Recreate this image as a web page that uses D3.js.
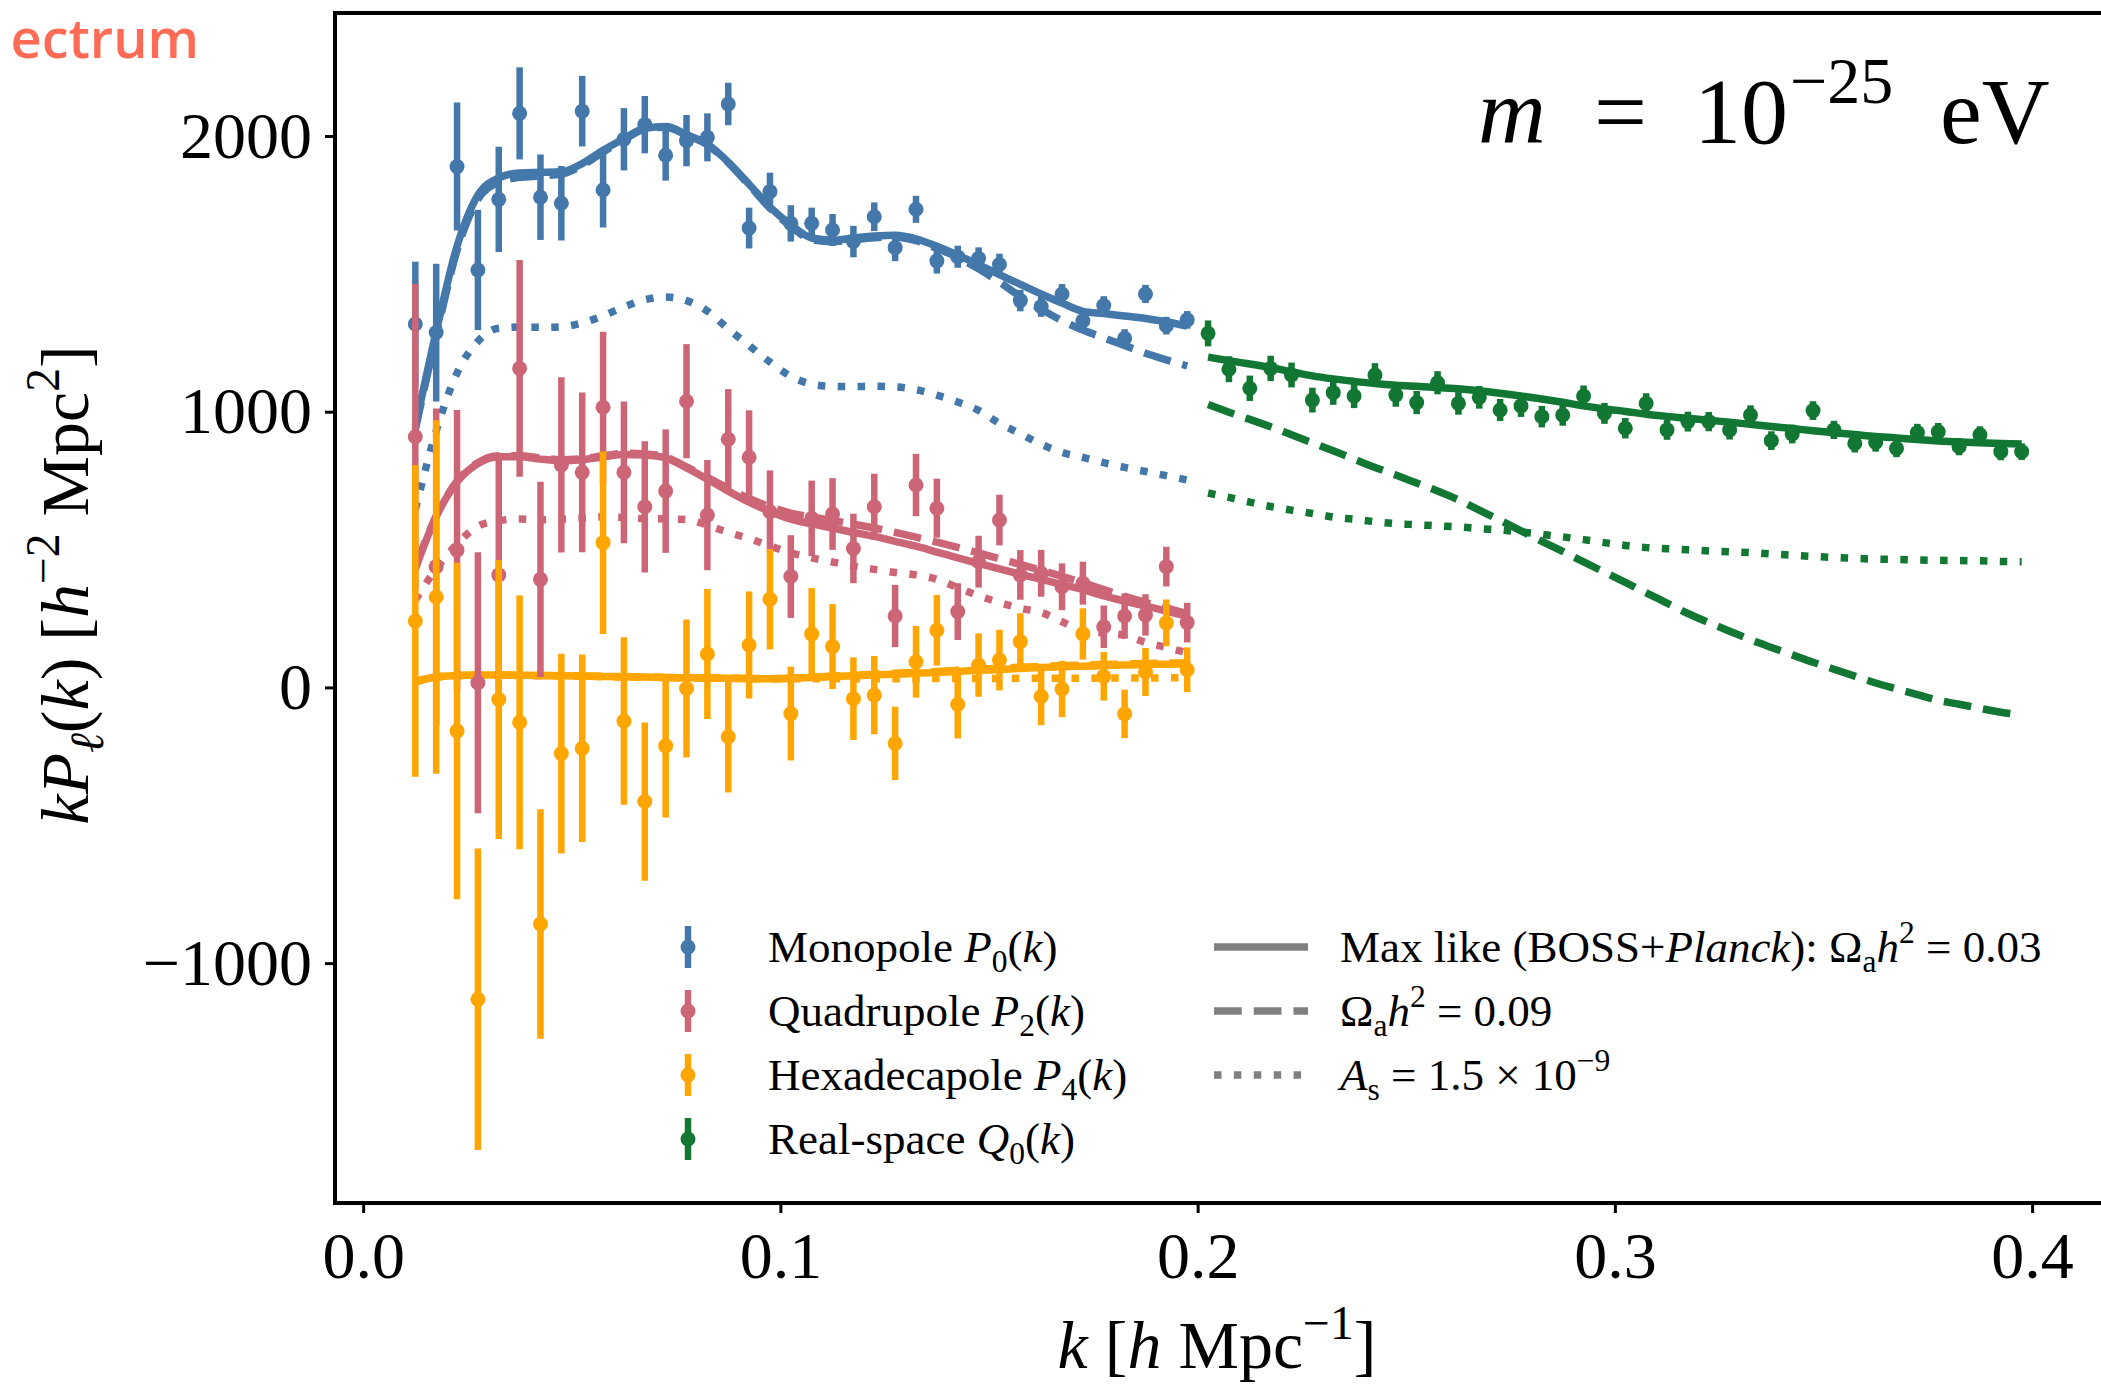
<!DOCTYPE html>
<html>
<head>
<meta charset="utf-8">
<script src="https://cdn.jsdelivr.net/npm/d3@7"></script>
<style>
  body { margin: 0; background: #fff; overflow: hidden; }
  svg { display: block; }
  text { font-family: "Liberation Serif", "DejaVu Serif", serif; }
</style>
</head>
<body>
<div id="container"></div>
<script>
// wavenumbers of the BOSS multipoles and of the real-space Q0 points
var kMulti = [0.0125, 0.0175, 0.0225, 0.0275, 0.0325, 0.0375, 0.0425, 0.0475, 0.0525, 0.0575,
  0.0625, 0.0675, 0.0725, 0.0775, 0.0825, 0.0875, 0.0925, 0.0975, 0.1025, 0.1075,
  0.1125, 0.1175, 0.1225, 0.1275, 0.1325, 0.1375, 0.1425, 0.1475, 0.1525, 0.1575,
  0.1625, 0.1675, 0.1725, 0.1775, 0.1825, 0.1875, 0.1925, 0.1975];
var kReal = [0.2025, 0.2075, 0.2125, 0.2175, 0.2225, 0.2275, 0.2325, 0.2375, 0.2425, 0.2475,
  0.2525, 0.2575, 0.2625, 0.2675, 0.2725, 0.2775, 0.2825, 0.2875, 0.2925, 0.2975,
  0.3025, 0.3075, 0.3125, 0.3175, 0.3225, 0.3275, 0.3325, 0.3375, 0.3425, 0.3475,
  0.3525, 0.3575, 0.3625, 0.3675, 0.3725, 0.3775, 0.3825, 0.3875, 0.3925, 0.3975];

// measured k*P_l(k) and 1-sigma errors
var p0 = [1318, 1287, 1889, 1514, 1770, 2082, 1778, 1756, 2090, 1804, 1988, 2041, 1930, 1983, 1995, 2116, 1666, 1798, 1683, 1683,
  1659, 1617, 1707, 1595, 1734, 1547, 1562, 1556, 1534, 1403, 1381, 1427, 1330, 1385, 1266, 1427, 1312, 1333];
var p0Err = [226, 250, 232, 218, 191, 167, 155, 135, 128, 136, 113, 104, 92, 93, 87, 77, 74, 69, 66, 57,
  58, 57, 52, 49, 49, 46, 40, 40, 39, 39, 37, 36, 34, 34, 33, 33, 32, 32];
var p2 = [909, 438, 498, 17, 408, 1157, 392, 807, 780, 1016, 780, 655, 712, 1038, 625, 900, 835, 637, 402, 613,
  629, 504, 655, 259, 734, 650, 275, 456, 607, 408, 414, 365, 378, 220, 259, 263, 438, 235];
var p2Err = [555, 574, 508, 473, 429, 393, 354, 318, 290, 274, 257, 238, 224, 207, 200, 182, 170, 150, 150, 137,
  130, 126, 120, 113, 113, 107, 103, 94, 92, 90, 85, 85, 78, 77, 82, 75, 72, 72];
var p4 = [241, 328, -158, -1131, -44, -127, -858, -240, -221, 525, -122, -414, -212, -4, 121, -179, 154, 320, -95, 194,
  148, -41, -28, -203, 93, 207, -62, 81, 99, 166, -33, -6, 194, 40, -96, 56, 234, 64];
var p4Err = [565, 641, 610, 547, 506, 460, 416, 362, 340, 331, 304, 287, 260, 250, 236, 202, 194, 182, 170, 166,
  154, 150, 142, 133, 130, 128, 123, 115, 110, 103, 104, 102, 93, 88, 88, 87, 85, 81];
var q0 = [1284, 1154, 1085, 1157, 1133, 1042, 1069, 1057, 1133, 1061, 1033, 1105, 1030, 1052, 1006, 1021, 982, 988, 1057, 994,
  940, 1030, 934, 964, 964, 934, 988, 895, 919, 1004, 934, 885, 888, 867, 924, 927, 873, 916, 855, 855];
var q0Err = [47, 47, 46, 46, 45, 45, 44, 44, 43, 43, 42, 42, 41, 41, 40, 40, 39, 39, 38, 38,
  37, 37, 36, 36, 35, 35, 35, 34, 34, 34, 33, 33, 33, 32, 32, 32, 31, 31, 31, 30];

// model curves: max like (solid), Omega_a h^2 = 0.09 (dashed), A_s = 1.5e-9 (dotted)
var p0Max = [946, 1290, 1600, 1785, 1848, 1866, 1868, 1870, 1900, 1948, 1990, 2028, 2034, 2005, 1970, 1905, 1825, 1742, 1678, 1630,
  1622, 1630, 1637, 1640, 1627, 1600, 1568, 1533, 1497, 1462, 1427, 1394, 1364, 1356, 1347, 1338, 1326, 1310];
var p0Dash = [936, 1275, 1585, 1770, 1832, 1850, 1855, 1862, 1893, 1942, 1986, 2025, 2032, 2003, 1968, 1903, 1822, 1738, 1672, 1624,
  1616, 1624, 1631, 1634, 1620, 1592, 1560, 1518, 1470, 1418, 1372, 1330, 1296, 1268, 1240, 1212, 1188, 1166];
var p0Dot = [645, 930, 1140, 1255, 1303, 1307, 1306, 1308, 1322, 1348, 1380, 1406, 1416, 1403, 1365, 1300, 1240, 1180, 1128, 1100,
  1092, 1091, 1092, 1090, 1080, 1060, 1035, 1005, 958, 920, 882, 852, 834, 815, 798, 783, 768, 752];
var p2Max = [430, 619, 745, 812, 837, 837, 828, 822, 826, 836, 845, 843, 832, 796, 755, 712, 672, 638, 610, 593,
  578, 562, 548, 530, 512, 491, 470, 450, 430, 410, 392, 373, 355, 332, 313, 295, 277, 258];
var p2Dash = [435, 622, 748, 815, 840, 840, 832, 826, 830, 840, 849, 847, 836, 800, 762, 722, 685, 655, 632, 618,
  605, 592, 578, 562, 545, 527, 508, 488, 467, 446, 425, 403, 380, 355, 330, 308, 288, 268];
var p2Dot = [317, 430, 520, 585, 605, 611, 608, 610, 614, 618, 616, 612, 611, 609, 588, 562, 540, 513, 488, 470,
  455, 440, 428, 417, 408, 392, 362, 332, 308, 287, 272, 238, 205, 197, 189, 163, 145, 126];
var p4Max = [22, 38, 43, 45, 45, 44, 43, 42, 41, 40, 39, 38, 36, 35, 34, 33, 32, 31, 33, 36,
  39, 42, 45, 48, 51, 54, 58, 62, 65, 69, 72, 75, 77, 79, 81, 83, 84, 85];
var p4Dash = [22, 38, 43, 45, 45, 44, 43, 42, 41, 40, 39, 38, 36, 35, 34, 33, 32, 32, 34, 37,
  41, 44, 48, 51, 55, 58, 62, 66, 70, 73, 76, 79, 81, 83, 85, 87, 88, 89];
var p4Dot = [20, 36, 42, 44, 44, 43, 42, 41, 40, 39, 38, 37, 36, 35, 34, 33, 32, 31, 31, 31,
  31, 31, 31, 31, 31, 32, 32, 32, 32, 33, 33, 33, 33, 34, 34, 34, 35, 35];
var q0Max = [1198, 1185, 1173, 1160, 1145, 1130, 1119, 1110, 1102, 1096, 1092, 1088, 1083, 1076, 1067, 1057, 1046, 1034, 1021, 1010,
  1001, 991, 983, 976, 969, 962, 954, 946, 939, 931, 924, 917, 910, 905, 899, 894, 890, 887, 885, 883];
var q0Dash = [1026, 998, 972, 945, 916, 887, 858, 828, 798, 770, 741, 712, 680, 643, 606, 568, 530, 493, 455, 418,
  381, 343, 306, 268, 235, 204, 173, 145, 118, 91, 66, 41, 16, -5, -26, -47, -61, -76, -90, -100];
var q0Dot = [705, 689, 672, 656, 643, 631, 618, 610, 601, 594, 590, 586, 582, 576, 571, 564, 555, 546, 536, 525,
  515, 507, 503, 499, 495, 492, 489, 484, 479, 475, 471, 468, 465, 464, 462, 461, 460, 459, 457, 456];

var xTicks = [0.0, 0.1, 0.2, 0.3, 0.4];
var yTicks = [-1000, 0, 1000, 2000];

var colors = { mono: "#4477aa", quad: "#cc6677", hexa: "#ffa500", real: "#117733", legend: "#808080" };

var W = 2101, H = 1384;
var box = { left: 335, right: 2102, top: 13, bottom: 1203 };
var lw = 7.5;
var dashes = { solid: null, dashed: "27.75 12", dotted: "7.5 12.4" };

var svg = d3.select("#container").append("svg").attr("width", W).attr("height", H);
svg.append("rect").attr("width", W).attr("height", H).attr("fill", "#fff");

var x = d3.scaleLinear().domain([-0.00675, 0.41675]).range([box.left, box.right]);
var y = d3.scaleLinear().domain([-1870, 2446]).range([box.bottom, box.top]);

// rich text helper: parts with italic / sub / sup flags
function richText(t, parts, size) {
  var cur = 0;
  parts.forEach(function (p) {
    var off = p.sub ? size * 0.22 : p.sup ? -size * 0.42 : 0;
    var ts = t.append("tspan").attr("dy", off - cur).text(p.t);
    cur = off;
    if (p.sub || p.sup) ts.style("font-size", size * 0.7 + "px");
    if (p.it) ts.style("font-style", "italic");
  });
}

// model lines
var line = d3.line()
  .x(function (d) { return x(d[0]); })
  .y(function (d) { return y(d[1]); })
  .curve(d3.curveMonotoneX);

var models = [
  { k: kMulti, v: p0Dot, c: colors.mono, s: "dotted" },
  { k: kMulti, v: p0Dash, c: colors.mono, s: "dashed" },
  { k: kMulti, v: p0Max, c: colors.mono, s: "solid" },
  { k: kMulti, v: p2Dot, c: colors.quad, s: "dotted" },
  { k: kMulti, v: p2Dash, c: colors.quad, s: "dashed" },
  { k: kMulti, v: p2Max, c: colors.quad, s: "solid" },
  { k: kMulti, v: p4Dot, c: colors.hexa, s: "dotted" },
  { k: kMulti, v: p4Dash, c: colors.hexa, s: "dashed" },
  { k: kMulti, v: p4Max, c: colors.hexa, s: "solid" },
  { k: kReal, v: q0Dot, c: colors.real, s: "dotted" },
  { k: kReal, v: q0Dash, c: colors.real, s: "dashed" },
  { k: kReal, v: q0Max, c: colors.real, s: "solid" }
];

var lines = svg.append("g").attr("class", "models");
lines.selectAll("path")
  .data(models)
  .enter()
  .append("path")
  .attr("d", function (m) {
    return line(m.k.map(function (k, i) { return [k, m.v[i]]; }));
  })
  .attr("fill", "none")
  .attr("stroke", function (m) { return m.c; })
  .attr("stroke-width", lw)
  .attr("stroke-dasharray", function (m) { return dashes[m.s]; })
  .attr("stroke-linecap", "butt")
  .attr("stroke-linejoin", "round");

// data with error bars
var series = [
  { k: kMulti, v: p0, e: p0Err, c: colors.mono },
  { k: kMulti, v: p2, e: p2Err, c: colors.quad },
  { k: kMulti, v: p4, e: p4Err, c: colors.hexa },
  { k: kReal, v: q0, e: q0Err, c: colors.real }
];

series.forEach(function (s) {
  var pts = s.k.map(function (k, i) { return { k: k, v: s.v[i], e: s.e[i] }; });
  var g = svg.append("g").attr("class", "errorbars");
  g.selectAll("line")
    .data(pts)
    .enter()
    .append("line")
    .attr("x1", function (d) { return x(d.k); })
    .attr("x2", function (d) { return x(d.k); })
    .attr("y1", function (d) { return y(d.v - d.e); })
    .attr("y2", function (d) { return y(d.v + d.e); })
    .attr("stroke", s.c)
    .attr("stroke-width", 6.5);
  g.selectAll("circle")
    .data(pts)
    .enter()
    .append("circle")
    .attr("cx", function (d) { return x(d.k); })
    .attr("cy", function (d) { return y(d.v); })
    .attr("r", 7.5)
    .attr("fill", s.c);
});

// axes
var fs = 66;
var yAxis = svg.append("g")
  .attr("transform", "translate(" + box.left + ",0)")
  .call(d3.axisLeft(y).tickValues(yTicks).tickFormat(d3.format("d")).tickSize(10).tickSizeOuter(0).tickPadding(13));
var xAxis = svg.append("g")
  .attr("transform", "translate(0," + box.bottom + ")")
  .call(d3.axisBottom(x).tickValues(xTicks).tickFormat(d3.format(".1f")).tickSize(10).tickSizeOuter(0).tickPadding(18));
[yAxis, xAxis].forEach(function (a) {
  a.select(".domain").remove();
  a.selectAll(".tick line").attr("stroke", "#000").attr("stroke-width", 3);
  a.selectAll(".tick text")
    .style("font-family", "'Liberation Serif', serif")
    .style("font-size", fs + "px")
    .style("fill", "#000");
});

// spines
var spines = svg.append("g").attr("stroke", "#000").attr("stroke-width", 4).attr("stroke-linecap", "square");
spines.append("line").attr("x1", box.left).attr("x2", box.right).attr("y1", box.top).attr("y2", box.top);
spines.append("line").attr("x1", box.left).attr("x2", box.right).attr("y1", box.bottom).attr("y2", box.bottom);
spines.append("line").attr("x1", box.left).attr("x2", box.left).attr("y1", box.top).attr("y2", box.bottom);

// axis labels
var xl = svg.append("text")
  .attr("x", 1217).attr("y", 1368)
  .attr("text-anchor", "middle")
  .style("font-size", "68px");
richText(xl, [{ t: "k", it: true }, { t: " [" }, { t: "h", it: true }, { t: " Mpc" }, { t: "\u22121", sup: true }, { t: "]" }], 68);

var yl = svg.append("text")
  .attr("transform", "translate(88,585) rotate(-90)")
  .attr("text-anchor", "middle")
  .style("font-size", "68px");
richText(yl, [{ t: "kP", it: true }, { t: "\u2113", sub: true, it: true }, { t: "(" }, { t: "k", it: true },
  { t: ")  [" }, { t: "h", it: true }, { t: "\u22122", sup: true }, { t: " Mpc" }, { t: "2", sup: true }, { t: "]" }], 68);

// mass annotation
var ann = svg.append("text").attr("y", 143).style("font-size", "94px");
ann.append("tspan").attr("x", 1478).style("font-style", "italic").text("m");
ann.append("tspan").attr("x", 1594).text("=");
ann.append("tspan").attr("x", 1694).text("10");
ann.append("tspan").attr("x", 1790).attr("dy", -40).style("font-size", "66px").text("\u221225");
ann.append("tspan").attr("x", 1940).attr("dy", 40).text("eV");

// clipped heading in the corner
svg.append("text")
  .attr("x", 199).attr("y", 58)
  .attr("text-anchor", "end")
  .style("font-family", "'Open Sans', sans-serif")
  .style("font-weight", 600)
  .style("font-size", "54px")
  .style("fill", "#ff6b55")
  .text("ectrum");

// legend
var lfs = 45;
var legData = [
  { c: colors.mono, parts: [{ t: "Monopole " }, { t: "P", it: true }, { t: "0", sub: true }, { t: "(" }, { t: "k", it: true }, { t: ")" }] },
  { c: colors.quad, parts: [{ t: "Quadrupole " }, { t: "P", it: true }, { t: "2", sub: true }, { t: "(" }, { t: "k", it: true }, { t: ")" }] },
  { c: colors.hexa, parts: [{ t: "Hexadecapole " }, { t: "P", it: true }, { t: "4", sub: true }, { t: "(" }, { t: "k", it: true }, { t: ")" }] },
  { c: colors.real, parts: [{ t: "Real-space " }, { t: "Q", it: true }, { t: "0", sub: true }, { t: "(" }, { t: "k", it: true }, { t: ")" }] }
];
var legLines = [
  { s: "solid", parts: [{ t: "Max like (BOSS+" }, { t: "Planck", it: true }, { t: "): \u03a9" }, { t: "a", sub: true }, { t: "h", it: true }, { t: "2", sup: true }, { t: " = 0.03" }] },
  { s: "dashed", parts: [{ t: "\u03a9" }, { t: "a", sub: true }, { t: "h", it: true }, { t: "2", sup: true }, { t: " = 0.09" }] },
  { s: "dotted", parts: [{ t: "A", it: true }, { t: "s", sub: true }, { t: " = 1.5 \u00d7 10" }, { t: "\u22129", sup: true }] }
];
var rowY = function (i) { return 947 + i * 64; };

var legend = svg.append("g").attr("class", "legend");
legData.forEach(function (d, i) {
  var cy = rowY(i);
  legend.append("line")
    .attr("x1", 688).attr("x2", 688).attr("y1", cy - 21).attr("y2", cy + 21)
    .attr("stroke", d.c).attr("stroke-width", 6.5);
  legend.append("circle").attr("cx", 688).attr("cy", cy).attr("r", 7.5).attr("fill", d.c);
  var t = legend.append("text").attr("x", 768).attr("y", cy + 15).style("font-size", lfs + "px");
  richText(t, d.parts, lfs);
});
legLines.forEach(function (d, i) {
  var cy = rowY(i);
  legend.append("line")
    .attr("x1", 1214).attr("x2", 1308).attr("y1", cy).attr("y2", cy)
    .attr("stroke", colors.legend).attr("stroke-width", lw)
    .attr("stroke-dasharray", dashes[d.s]);
  var t = legend.append("text").attr("x", 1340).attr("y", cy + 15).style("font-size", lfs + "px");
  richText(t, d.parts, lfs);
});
</script>
</body>
</html>
